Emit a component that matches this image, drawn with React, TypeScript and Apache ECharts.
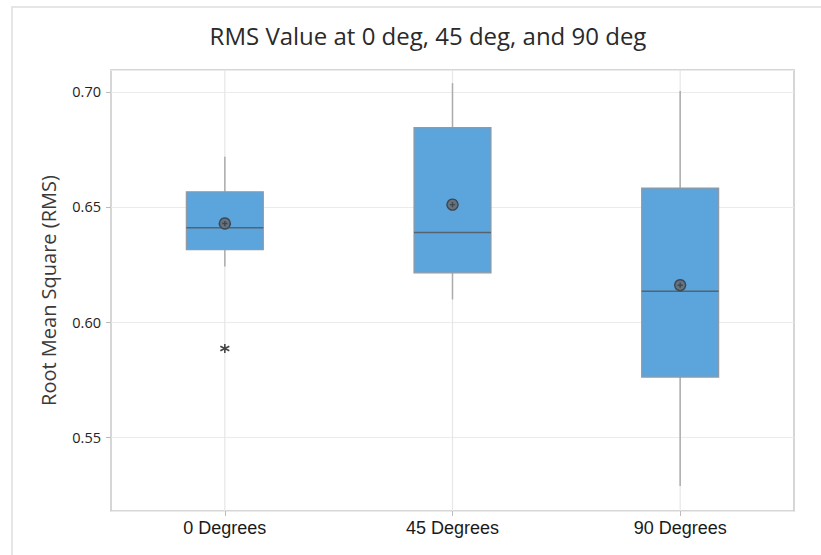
import React, { useEffect, useRef } from "react";
import * as echarts from "echarts";

const categories = ["0 Degrees", "45 Degrees", "90 Degrees"];
const whiskerLow = [0.6241, 0.6098, 0.5288];
const q1 = [0.6315, 0.6214, 0.5761];
const median = [0.641, 0.6389, 0.6134];
const q3 = [0.6566, 0.6845, 0.6582];
const whiskerHigh = [0.6718, 0.7038, 0.7004];
const means = [0.6428, 0.651, 0.616];
const outliers: [number, number][] = [[0, 0.5885]];
const yTickLabels = ["0.55", "0.60", "0.65", "0.70"];

export default function App() {
  const ref = useRef<HTMLDivElement>(null);
  useEffect(() => {
    if (!ref.current) return;
    const chart = echarts.init(ref.current, undefined, { renderer: "svg" });
    const boxData = categories.map((_, i) => [i, whiskerLow[i], q1[i], median[i], q3[i], whiskerHigh[i]]);
    const option: any = {
      animation: false,
      backgroundColor: "#ffffff",
      title: {
        text: "RMS Value at 0 deg, 45 deg, and 90 deg",
        left: 423,
        textAlign: "center",
        top: 18,
        textStyle: { fontFamily: "Open Sans", fontSize: 24, fontWeight: "normal", color: "#2a2a2a" },
      },
      graphic: [
        {
          type: "rect",
          shape: { x: 12, y: 7, width: 900, height: 600 },
          style: { fill: "none", stroke: "#dedede", lineWidth: 1.5 },
          silent: true,
          z: -10,
        },
      ],
      grid: { left: 111, right: 27, top: 70, bottom: 44, show: true, borderColor: "#c9c9c9", borderWidth: 1.5, backgroundColor: "transparent" },
      xAxis: {
        type: "category",
        data: categories,
        axisLine: { show: false },
        axisTick: { show: true, alignWithLabel: true, length: 5, lineStyle: { color: "#bbbbbb" } },
        axisLabel: { fontFamily: "Liberation Sans", fontSize: 18, color: "#1a1a1a", margin: 8 },
        splitLine: { show: false },
      },
      yAxis: {
        type: "value",
        min: 0.5179,
        max: 0.7095,
        splitNumber: 4,
        minInterval: 0.05,
        maxInterval: 0.05,
        name: "Root Mean Square (RMS)",
        nameLocation: "middle",
        nameGap: 53,
        nameTextStyle: { fontFamily: "Open Sans", fontSize: 20, color: "#3a3a3a" },
        axisLine: { show: false },
        axisTick: { show: true, length: 5, lineStyle: { color: "#bbbbbb" } },
        axisLabel: {
          fontFamily: "Open Sans",
          fontSize: 14.5,
          color: "#222",
          margin: 10,
          showMinLabel: false,
          showMaxLabel: false,
          formatter: (v: number) => {
            const s = v.toFixed(2);
            return yTickLabels.includes(s) ? s : "";
          },
        },
        splitLine: { show: true, lineStyle: { color: "#ebebeb", width: 1.2 } },
      },
      series: [
        {
          type: "custom",
          name: "box",
          data: boxData,
          encode: { x: 0, y: [1, 2, 3, 4, 5] },
          renderItem: (params: any, api: any) => {
            const idx = api.value(0);
            const cs = params.coordSys;
            const band = api.size([1, 0])[0];
            const w = band * 0.338;
            const lo = api.coord([idx, api.value(1)]);
            const b1 = api.coord([idx, api.value(2)]);
            const md = api.coord([idx, api.value(3)]);
            const b3 = api.coord([idx, api.value(4)]);
            const hi = api.coord([idx, api.value(5)]);
            const cx = lo[0];
            return {
              type: "group",
              children: [
                { type: "line", shape: { x1: cx, y1: cs.y, x2: cx, y2: cs.y + cs.height }, style: { stroke: "#e6e6e6", lineWidth: 1.2 }, silent: true },
                { type: "line", shape: { x1: cx, y1: hi[1], x2: cx, y2: b3[1] }, style: { stroke: "#acacac", lineWidth: 1.5 } },
                { type: "line", shape: { x1: cx, y1: b1[1], x2: cx, y2: lo[1] }, style: { stroke: "#acacac", lineWidth: 1.5 } },
                { type: "rect", shape: { x: cx - w / 2, y: b3[1], width: w, height: b1[1] - b3[1] }, style: { fill: "#5ca4dc", stroke: "#8f9aa4", lineWidth: 1.2 } },
                { type: "line", shape: { x1: cx - w / 2, y1: md[1], x2: cx + w / 2, y2: md[1] }, style: { stroke: "#56636e", lineWidth: 1.5 } },
              ],
            };
          },
          z: 2,
        },
        {
          type: "scatter",
          name: "mean",
          data: categories.map((_, i) => [i, means[i]]),
          symbol: "path://M5,0A5,5,0,1,1,4.99,0Z M5,2.6V7.4M2.6,5H7.4",
          symbolSize: 11,
          itemStyle: { color: "#66737f", borderColor: "#3c4852", borderWidth: 1.4, opacity: 1 },
          z: 5,
        },
        {
          type: "scatter",
          name: "outlier",
          data: outliers,
          symbol: "path://M5,0V10M0.7,2.5L9.3,7.5M0.7,7.5L9.3,2.5",
          symbolSize: 9,
          itemStyle: { color: "none", borderColor: "#444", borderWidth: 1.6, opacity: 1 },
          z: 5,
        },
      ],
    };
    chart.setOption(option);
    return () => chart.dispose();
  }, []);
  return <div ref={ref} style={{ position: "fixed", left: 0, top: 0, width: 821, height: 555 }} />;
}
